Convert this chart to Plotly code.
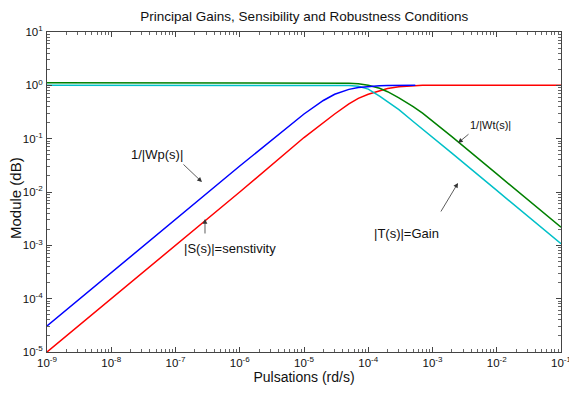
import plotly.graph_objects as go

# Pulsation sample points (rd/s)
w = [1e-9, 1e-8, 1e-7, 1e-6, 1e-5, 2e-5, 3e-5, 5e-5, 7e-5, 1e-4, 1.5e-4,
     2e-4, 3e-4, 5e-4, 7e-4, 1e-3, 2e-3, 1e-2, 1e-1]

# |S(s)| = sensitivity (red)
S_mag = [1e-5, 1e-4, 1e-3, 1e-2, 0.105, 0.2, 0.29, 0.45, 0.57, 0.68, 0.8,
         0.87, 0.94, 0.98, 1.0, 1.0, 1.0, 1.0, 1.0]

# 1/|Wp(s)| (blue) - drawn up to ~5.4e-4
w_wp = [1e-9, 1e-8, 1e-7, 1e-6, 1e-5, 2e-5, 3e-5, 5e-5, 7e-5, 1e-4, 1.5e-4,
        2e-4, 3e-4, 5.4e-4]
Wp_inv = [3.07e-5, 3.07e-4, 3.07e-3, 0.0307, 0.29, 0.52, 0.68, 0.84, 0.91,
          0.95, 0.98, 0.99, 1.0, 1.0]

# |T(s)| = Gain (cyan)
T_mag = [1.0, 1.0, 1.0, 1.0, 1.0, 1.0, 1.0, 0.99, 0.96, 0.85, 0.63,
         0.5, 0.35, 0.21, 0.152, 0.107, 0.0535, 0.0107, 0.00107]

# 1/|Wt(s)| (green)
Wt_inv = [1.12, 1.12, 1.12, 1.12, 1.12, 1.12, 1.12, 1.1, 1.07, 1.0, 0.88,
          0.76, 0.58, 0.4, 0.3, 0.215, 0.109, 0.0218, 0.00218]

x_exps = [-9, -8, -7, -6, -5, -4, -3, -2, -1]
y_exps = [-5, -4, -3, -2, -1, 0, 1]

FONT = "Arial, Liberation Sans, sans-serif"


def ticks_for(exps):
    vals = [10.0 ** e for e in exps]
    text = ["10<sup>%d</sup>" % e for e in exps]
    minor = [k * 10.0 ** e for e in exps[:-1] for k in range(2, 10)]
    return vals, text, minor


xv, xt, xm = ticks_for(x_exps)
yv, yt, ym = ticks_for(y_exps)

fig = go.Figure()
fig.add_trace(go.Scatter(x=w, y=S_mag, mode="lines",
                         line=dict(color="#ff0000", width=1.5), name="|S(s)|"))
fig.add_trace(go.Scatter(x=w, y=T_mag, mode="lines",
                         line=dict(color="#00c0c8", width=1.5), name="|T(s)|"))
fig.add_trace(go.Scatter(x=w, y=Wt_inv, mode="lines",
                         line=dict(color="#008000", width=1.5), name="1/|Wt(s)|"))
fig.add_trace(go.Scatter(x=w_wp, y=Wp_inv, mode="lines",
                         line=dict(color="#0000ff", width=1.5), name="1/|Wp(s)|"))

axis_common = dict(
    type="log", showgrid=False, zeroline=False, automargin=False,
    showline=True, linecolor="#444", linewidth=1, mirror="ticks",
    ticks="inside", ticklen=5, tickcolor="#444", ticklabeloverflow="allow",
    tickfont=dict(family=FONT, size=11.5, color="#111"),
)

fig.update_xaxes(range=[-9, -1], tickmode="array", tickvals=xv, ticktext=xt,
                 minor=dict(tickmode="array", tickvals=xm, ticks="inside",
                            ticklen=3, tickcolor="#666", showgrid=False),
                 title=dict(text="Pulsations (rd/s)",
                            font=dict(family=FONT, size=14, color="#111"),
                            standoff=2),
                 **axis_common)
fig.update_yaxes(range=[-5, 1], tickmode="array", tickvals=yv, ticktext=yt,
                 ticklabelstandoff=1,
                 minor=dict(tickmode="array", tickvals=ym, ticks="inside",
                            ticklen=3, tickcolor="#666", showgrid=False),
                 **axis_common)

arrow = dict(showarrow=True, arrowhead=2, arrowsize=1.2, arrowwidth=0.8,
             arrowcolor="#333", text="", axref="pixel", ayref="pixel")
annots = [
    # arrows (heads in log-units of the axes, tails as pixel offsets)
    dict(x=-6.588, y=-1.813, ax=-20, ay=-19, **arrow),
    dict(x=-6.541, y=-2.506, ax=0, ay=16, **arrow),
    dict(x=-2.603, y=-1.831, ax=-18, ay=30, **arrow),
    dict(x=-2.603, y=-1.081, ax=12, ay=-10, **arrow),
    # labels
    dict(x=-7.288, y=-1.306, text="1/|Wp(s)|", showarrow=False,
         font=dict(family=FONT, size=13, color="#111")),
    dict(x=-6.152, y=-3.05, text="|S(s)|=senstivity", showarrow=False,
         font=dict(family=FONT, size=13, color="#111")),
    dict(x=-3.397, y=-2.769, text="|T(s)|=Gain", showarrow=False,
         font=dict(family=FONT, size=13, color="#111")),
    dict(x=-2.105, y=-0.744, text="1/|Wt(s)|", showarrow=False,
         font=dict(family=FONT, size=11, color="#111")),
    # y-axis title
    dict(xref="paper", yref="paper", text="Module (dB)",
         x=(15 - 47) / (569 - 47 - 8), y=(397 - 45 - 198) / (397 - 32 - 45),
         xanchor="center", yanchor="middle",
         showarrow=False, textangle=-90,
         font=dict(family=FONT, size=15, color="#111")),
]

fig.update_layout(
    width=569, height=397,
    margin=dict(l=47, r=8, t=32, b=45),
    paper_bgcolor="white", plot_bgcolor="white",
    showlegend=False,
    title=dict(text="Principal Gains, Sensibility and Robustness Conditions",
               x=0.5348, xanchor="center", y=0.96, yanchor="middle",
               font=dict(family=FONT, size=13.5, color="#111")),
    annotations=annots,
)

fig.write_html("out.html", config={"displayModeBar": False},
               post_script="document.body.style.margin='0';"
                           "document.body.style.padding='0';")
